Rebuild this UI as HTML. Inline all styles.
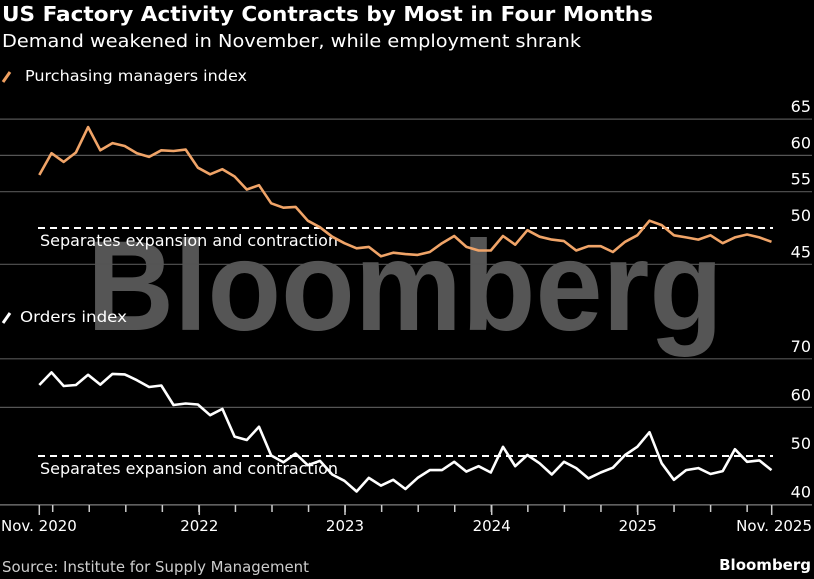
<!DOCTYPE html>
<html><head><meta charset="utf-8">
<style>
html,body{margin:0;padding:0;background:#000;}
body{width:814px;height:575px;overflow:hidden;font-family:"DejaVu Sans","Liberation Sans",sans-serif;}
</style></head>
<body>
<svg id="chart" width="814" height="575" viewBox="0 0 814 575" xmlns="http://www.w3.org/2000/svg" font-family="DejaVu Sans, Liberation Sans, sans-serif">
<text x="405" y="330" style="font-family:'Liberation Sans',sans-serif" font-size="128" font-weight="bold" fill="#555" text-anchor="middle" textLength="636" lengthAdjust="spacingAndGlyphs">Bloomberg</text>
<text x="2" y="21" font-size="20" font-weight="bold" fill="#fff" textLength="651" lengthAdjust="spacingAndGlyphs">US Factory Activity Contracts by Most in Four Months</text>
<text x="2" y="47" font-size="18" fill="#fff" textLength="579" lengthAdjust="spacingAndGlyphs">Demand weakened in November, while employment shrank</text>
<g>
<line x1="3" y1="82" x2="10" y2="72" stroke="#f0a060" stroke-width="3"/>
<text x="25" y="81" font-size="15" fill="#fff" textLength="222" lengthAdjust="spacingAndGlyphs">Purchasing managers index</text>
</g>
<g>
<line x1="3" y1="323" x2="10" y2="313" stroke="#fff" stroke-width="3"/>
<text x="20" y="322" font-size="15" fill="#fff" textLength="107" lengthAdjust="spacingAndGlyphs">Orders index</text>
</g>
<g id="top"></g>
<g id="bot"></g>
<g id="xaxis"></g>
<text x="2" y="572" font-size="15" fill="#ccc" textLength="307" lengthAdjust="spacingAndGlyphs">Source: Institute for Supply Management</text>
<text x="811" y="570" font-size="15" font-weight="bold" fill="#fff" text-anchor="end">Bloomberg</text>
</svg>
<script>
const pmiValues = [57.3,60.3,59.1,60.4,63.9,60.7,61.7,61.3,60.3,59.8,60.7,60.6,60.8,58.3,57.4,58.1,57.1,55.3,55.9,53.4,52.8,52.9,51.0,50.1,48.8,47.9,47.2,47.4,46.1,46.6,46.4,46.3,46.7,47.9,48.9,47.4,46.9,46.9,48.9,47.7,49.7,48.8,48.4,48.2,46.9,47.5,47.5,46.7,48.1,49.0,51.0,50.4,49.0,48.7,48.4,49.0,47.9,48.7,49.1,48.7,48.1];
const ordersValues = [64.6,67.2,64.4,64.6,66.7,64.7,66.9,66.8,65.6,64.2,64.5,60.5,60.8,60.6,58.4,59.7,54.0,53.3,56.0,50.1,48.7,50.5,48.1,49.0,46.2,44.9,42.7,45.5,43.9,45.1,43.2,45.5,47.1,47.1,48.8,46.8,47.9,46.6,51.9,47.9,50.2,48.5,46.2,48.8,47.5,45.4,46.6,47.6,50.2,51.9,54.9,48.5,45.1,47.1,47.5,46.3,46.9,51.4,48.8,49.1,47.1];
const pmiTicks = [65,60,55,50,45];
const ordersTicks = [70,60,50,40];
const xTickLabels = ["Nov. 2020","2022","2023","2024","2025","Nov. 2025"];
const threshold = 50;
const thresholdLabel = "Separates expansion and contraction";

const NS="http://www.w3.org/2000/svg";
function mk(tag,attrs,parent,txt){const e=document.createElementNS(NS,tag);for(const k in attrs)e.setAttribute(k,attrs[k]);if(txt!==undefined)e.textContent=txt;parent.appendChild(e);return e;}
const x0=39.3,x1=771.5;
function xs(i){return x0+(x1-x0)*i/60;}
function yTop(v){return 228+(50-v)*7.26;}
function yBot(v){return 456+(50-v)*4.86;}

function panel(g,ticks,yf,vals,color,name){
  ticks.forEach(t=>{
    if(t!==threshold){
      const l=mk('line',{x1:0,x2:812,y1:yf(t),y2:yf(t),stroke:'#555','stroke-width':1.2},g);
      
      
    }
    const tx=mk('text',{x:811,y:yf(t)-7,'font-size':16,fill:'#fff','text-anchor':'end'},g,String(t));
    
    
  });
  const d=mk('line',{x1:38,x2:773,y1:yf(threshold),y2:yf(threshold),stroke:'#fff','stroke-width':2,'stroke-dasharray':'7,5'},g);
  
  
  const lt=mk('text',{x:40,y:yf(threshold)+18,'font-size':16,fill:'#fff',textLength:298,lengthAdjust:'spacingAndGlyphs'},g,thresholdLabel);
  
  
  const p=mk('polyline',{points:vals.map((v,i)=>xs(i).toFixed(1)+','+yf(v).toFixed(1)).join(' '),fill:'none',stroke:color,'stroke-width':2.6,'stroke-linejoin':'round'},g);
  
  
}
panel(document.getElementById('top'),pmiTicks,yTop,pmiValues,'#f0a468','pmi');
panel(document.getElementById('bot'),ordersTicks,yBot,ordersValues,'#fff','orders');

const xa=document.getElementById('xaxis');
const base=mk('line',{x1:0,x2:812,y1:505,y2:505,stroke:'#666','stroke-width':1.2},xa);


for(let m=2;m<=59;m+=3){
  const px=52.7+(m-2)/3*36.55;
  const t=mk('line',{x1:px,x2:px,y1:505,y2:512,stroke:'#ccc','stroke-width':1.5},xa);
  
  
}
const labelPx=[39.3,199.3,345,491.7,637.7,771.7];
xTickLabels.forEach((lab,i)=>{
  const px=labelPx[i];
  const t=mk('line',{x1:px,x2:px,y1:505,y2:515,stroke:'#ccc','stroke-width':1.5},xa);
  
  
  let anchor='middle',tx=px;
  if(i===0){tx=1;anchor='start';}
  if(i===xTickLabels.length-1){tx=812;anchor='end';}
  const e=mk('text',{x:tx,y:531,'font-size':15,fill:'#fff','text-anchor':anchor},xa,lab);
  
  
});
</script>
</body></html>
